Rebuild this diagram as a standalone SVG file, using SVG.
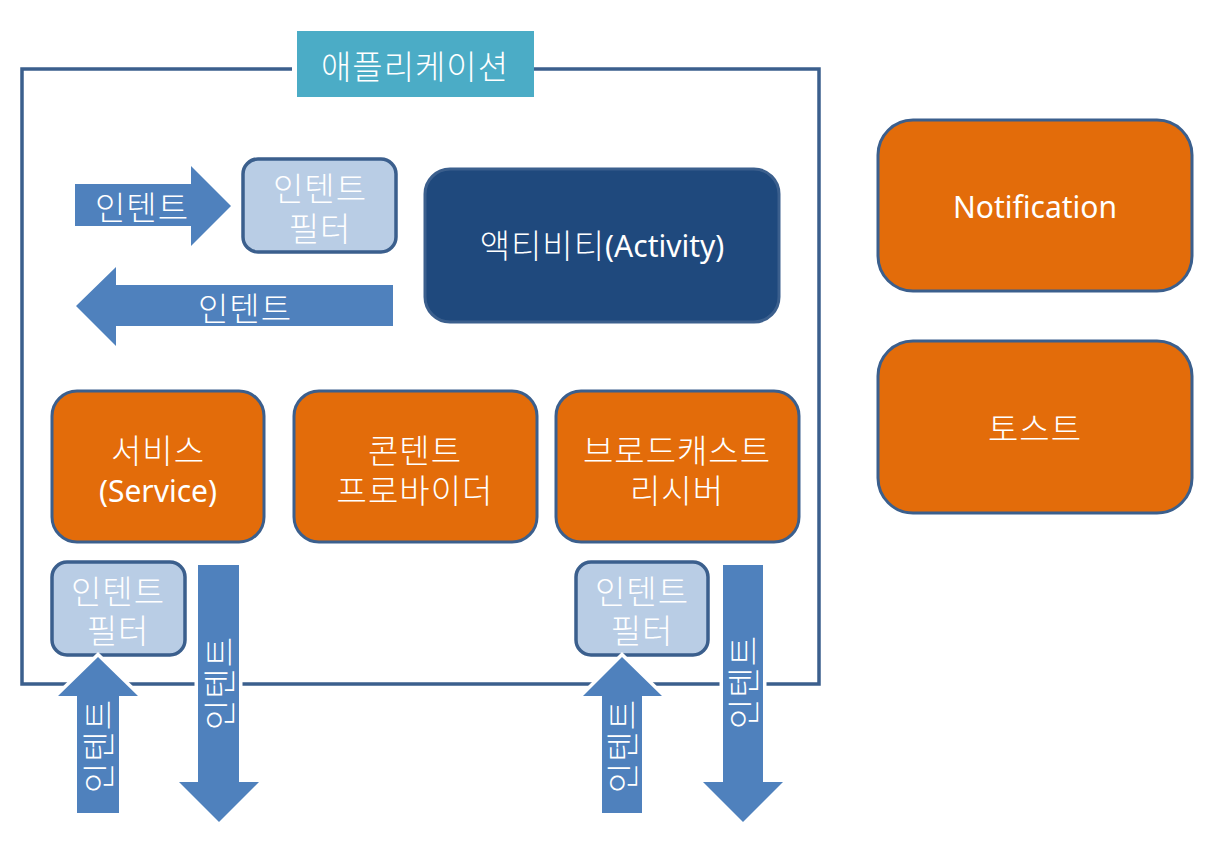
<svg xmlns="http://www.w3.org/2000/svg" width="1231" height="850" viewBox="0 0 1231 850">
<style>
.t{font-family:"Noto Sans","Noto Sans CJK KR",sans-serif;fill:#fff;text-anchor:middle;dominant-baseline:central;font-size:30px}
.k{font-size:33px;letter-spacing:1px;font-weight:300}
.orange{fill:#e36c0a;stroke:#3b5f8d;stroke-width:3}
.filter{fill:#b9cde5;stroke:#3b5f8d;stroke-width:3.5}
.arrow{fill:#4f81bd;stroke:#fff;stroke-width:7;paint-order:stroke;stroke-linejoin:miter}
.frame{fill:none;stroke:#3b5f8d;stroke-width:3.5}
</style>
<rect width="1231" height="850" fill="#fff"/>
<g id="application">
<path class="frame" d="M292,69 H22 V684 H819 V69 H521"/>
<rect x="297" y="31" width="237" height="66" fill="#4bacc6"/>
<text class="t k" x="415" y="66">애플리케이션</text>
</g>
<g id="filter-top">
<rect class="filter" x="243" y="159" width="153" height="93" rx="15"/>
<text class="t k" x="320" y="188">인텐트</text>
<text class="t k" x="320" y="228">필터</text>
</g>
<g id="activity">
<rect x="425" y="169" width="354" height="153" rx="25" fill="#1f497d" stroke="#3b5f8d" stroke-width="3"/>
<text class="t" x="602" y="245"><tspan class="k">액티비티</tspan>(Activity)</text>
</g>
<g id="service">
<rect class="orange" x="52" y="391" width="212" height="151" rx="25"/>
<text class="t k" x="158" y="450">서비스</text>
<text class="t" x="158" y="490">(Service)</text>
</g>
<g id="content-provider">
<rect class="orange" x="294" y="391" width="243" height="151" rx="25"/>
<text class="t k" x="415" y="450">콘텐트</text>
<text class="t k" x="415" y="490">프로바이더</text>
</g>
<g id="broadcast-receiver">
<rect class="orange" x="556" y="391" width="243" height="151" rx="25"/>
<text class="t k" x="677" y="450">브로드캐스트</text>
<text class="t k" x="677" y="490">리시버</text>
</g>
<g id="filter-service">
<rect class="filter" x="52" y="562" width="133" height="93" rx="15"/>
<text class="t k" x="118" y="591">인텐트</text>
<text class="t k" x="118" y="630">필터</text>
</g>
<g id="filter-broadcast">
<rect class="filter" x="576" y="562" width="132" height="93" rx="15"/>
<text class="t k" x="642" y="591">인텐트</text>
<text class="t k" x="642" y="630">필터</text>
</g>
<g id="notification">
<rect class="orange" x="878" y="120" width="314" height="171" rx="35"/>
<text class="t" x="1035" y="206">Notification</text>
</g>
<g id="toast">
<rect class="orange" x="878" y="341" width="314" height="172" rx="35"/>
<text class="t k" x="1035" y="428">토스트</text>
</g>
<g id="connectors">
<path class="arrow" d="M75,184 H191 V166 L231,206 L191,246 V226 H75 Z"/>
<text class="t k" x="142" y="207">인텐트</text>
<path class="arrow" d="M393,285 H116 V267 L76,306 L116,346 V326 H393 Z"/>
<text class="t k" x="245" y="308">인텐트</text>
<path class="arrow" d="M77,813 V696 H58 L98,657 L138,696 H119 V813 Z"/>
<text class="t k" transform="translate(98,746) rotate(-90)">인텐트</text>
<path class="arrow" d="M198,565 H239 V782 H259 L219,822 L179,782 H198 Z"/>
<text class="t k" transform="translate(219,683) rotate(-90)">인텐트</text>
<path class="arrow" d="M602,813 V696 H583 L622,657 L662,696 H642 V813 Z"/>
<text class="t k" transform="translate(622,746) rotate(-90)">인텐트</text>
<path class="arrow" d="M723,565 H763 V782 H783 L743,822 L703,782 H723 Z"/>
<text class="t k" transform="translate(743,682) rotate(-90)">인텐트</text>
</g>
</svg>
